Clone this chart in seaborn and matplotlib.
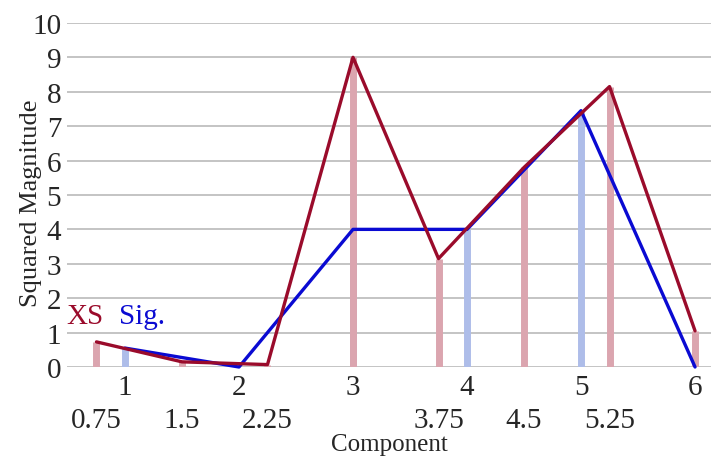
import numpy as np
import pandas as pd
import matplotlib
matplotlib.use("Agg")
import matplotlib.pyplot as plt
import seaborn as sns

# data
xs_x = [0.75, 1.5, 2.25, 3, 3.75, 4.5, 5.25, 6]
xs_y = [0.73, 0.15, 0.07, 9.0, 3.15, 5.8, 8.15, 1.05]
sig_x = [1, 2, 3, 4, 5, 6]
sig_y = [0.55, 0.0, 4.0, 4.0, 7.45, 0.0]
major_ticks = [1, 2, 3, 4, 5, 6]
minor_ticks = [0.75, 1.5, 2.25, 3.75, 4.5, 5.25]

red = "#9a0b2b"
blue = "#0a0ad2"
red_stem = "#dba5af"
blue_stem = "#aebde9"

sns.set_style("white")
plt.rcParams['font.family'] = ['Liberation Serif', 'DejaVu Serif']

xs_df = pd.DataFrame({"Component": xs_x, "Squared Magnitude": xs_y})
sig_df = pd.DataFrame({"Component": sig_x, "Squared Magnitude": sig_y})

fig = plt.figure(figsize=(7.11, 4.6), dpi=100)
ax = fig.add_axes([0.094, 0.2, 0.906, 0.748])

# stems
ax.vlines(sig_df["Component"], 0, sig_df["Squared Magnitude"], color=blue_stem, lw=5, zorder=2)
ax.vlines(xs_df["Component"], 0, xs_df["Squared Magnitude"], color=red_stem, lw=5, zorder=2)

# lines
sns.lineplot(data=sig_df, x="Component", y="Squared Magnitude", color=blue, lw=2.4,
             ax=ax, zorder=4, clip_on=False)
sns.lineplot(data=xs_df, x="Component", y="Squared Magnitude", color=red, lw=2.4,
             ax=ax, zorder=5, clip_on=False)

ax.set_xlim(0.49, 6.14)
ax.set_ylim(0, 10)
ax.set_yticks(range(0, 11))
ax.yaxis.grid(True, color="#c4c4c4", lw=1.4, zorder=0)
ax.set_axisbelow(True)
for s in ax.spines.values():
    s.set_visible(False)

ax.set_xticks(major_ticks)
ax.set_xticklabels([str(t) for t in major_ticks])
ax.set_xticks(minor_ticks, minor=True)
ax.set_xticklabels([f"{t:g}" for t in minor_ticks], minor=True)
ax.tick_params(axis="x", which="major", length=0, pad=5, labelsize=21)
ax.tick_params(axis="x", which="minor", length=0, pad=29, labelsize=21)
ax.tick_params(axis="y", length=0, pad=4, labelsize=21)

ax.set_xlabel("Component", fontsize=18, labelpad=0)
ax.set_ylabel("Squared Magnitude", fontsize=19)
ax.yaxis.set_label_coords(-0.038, 0.48)

ax.text(0.0, 0.11, "XS", color=red, fontsize=21, transform=ax.transAxes, ha="left", va="bottom")
ax.text(0.081, 0.11, "Sig.", color=blue, fontsize=21, transform=ax.transAxes, ha="left", va="bottom")

fig.savefig("out.png", dpi=100)
